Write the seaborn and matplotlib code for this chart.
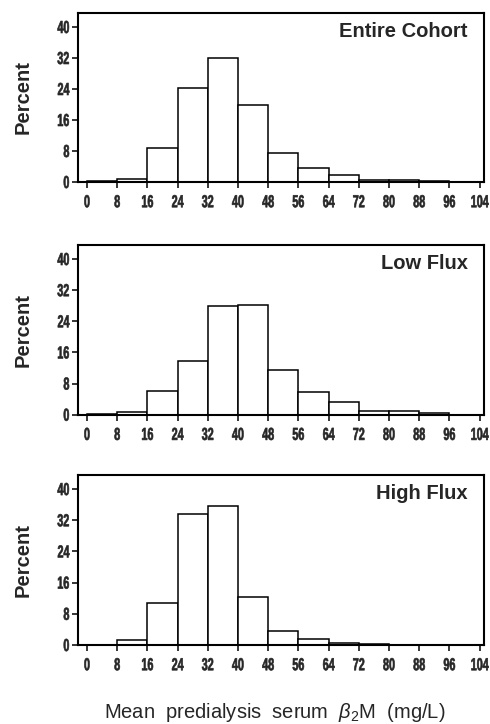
import numpy as np
import pandas as pd
import matplotlib
matplotlib.use("Agg")
import matplotlib.pyplot as plt
from matplotlib.patheffects import AbstractPathEffect
from matplotlib.transforms import Affine2D
import seaborn as sns

sns.set_style("ticks")
plt.rcParams["font.family"] = ["Liberation Sans", "DejaVu Sans"]
plt.rcParams["mathtext.fontset"] = "custom"
plt.rcParams["mathtext.rm"] = "Liberation Sans"
plt.rcParams["mathtext.it"] = "Liberation Sans:italic"

# Bin edges of mean predialysis serum beta2-microglobulin (mg/L)
bin_edges = [0, 8, 16, 24, 32, 40, 48, 56, 64, 72, 80, 88, 96, 104]
tick_labels = ["0", "8", "16", "24", "32", "40", "48", "56", "64", "72", "80", "88", "96", "104"]

# Percent of patients in each bin
entire_cohort = [0.2, 0.9, 8.7, 24.2, 32.0, 19.9, 7.5, 3.5, 1.8, 0.6, 0.5, 0.3, 0.0]
low_flux = [0.1, 0.7, 6.0, 13.7, 27.9, 28.1, 11.6, 5.8, 3.2, 0.9, 1.0, 0.4, 0.0]
high_flux = [0.1, 1.2, 10.9, 33.6, 35.6, 12.4, 3.6, 1.5, 0.6, 0.3, 0.0, 0.0, 0.0]

panel_titles = ["Entire Cohort", "Low Flux", "High Flux"]
y_ticks = [0, 8, 16, 24, 32, 40]


class CondensedText(AbstractPathEffect):
    """Squeeze a text path horizontally about an anchor and thicken its strokes."""

    def __init__(self, sx=0.65, anchor="center", weight=0.45):
        super().__init__()
        self.sx = sx
        self.anchor = anchor
        self.weight = weight

    def draw_path(self, renderer, gc, tpath, affine, rgbFace=None):
        ext = tpath.get_extents(affine)
        cx = ext.x1 if self.anchor == "right" else 0.5 * (ext.x0 + ext.x1)
        squeeze = Affine2D().translate(-cx, 0).scale(self.sx, 1).translate(cx, 0)
        gc0 = renderer.new_gc()
        gc0.copy_properties(gc)
        gc0.set_linewidth(self.weight)
        gc0.set_foreground(rgbFace if rgbFace is not None else "black")
        renderer.draw_path(gc0, tpath, affine + squeeze, rgbFace)
        gc0.restore()


centers = [(a + b) / 2 for a, b in zip(bin_edges[:-1], bin_edges[1:])]
frames = []
for title, vals in zip(panel_titles, [entire_cohort, low_flux, high_flux]):
    frames.append(pd.DataFrame({"group": title, "value": centers, "pct": vals}))
df = pd.concat(frames, ignore_index=True)

fig = plt.figure(figsize=(4.9, 7.24), dpi=100)
# axes rectangles [left, bottom, width, height] in figure fractions
rects = [
    [0.159, 0.7486, 0.829, 0.2334],
    [0.159, 0.4272, 0.829, 0.2344],
    [0.159, 0.1091, 0.829, 0.2348],
]

for rect, title in zip(rects, panel_titles):
    ax = fig.add_axes(rect)
    sub = df[df["group"] == title]
    sns.histplot(
        data=sub, x="value", weights="pct", bins=bin_edges, stat="count",
        color="white", edgecolor="black", linewidth=1.1, alpha=1.0, ax=ax,
    )
    ax.set_xlim(-2.4, 105.2)
    ax.set_ylim(0, 43.6)
    ax.set_xticks(bin_edges)
    ax.set_xticklabels(tick_labels, fontweight="bold", fontsize=12.5)
    ax.set_yticks(y_ticks)
    ax.set_yticklabels([str(t) for t in y_ticks], fontweight="bold", fontsize=12.5)
    for lab in ax.get_xticklabels():
        lab.set_path_effects([CondensedText(0.62, "center")])
    for lab in ax.get_yticklabels():
        lab.set_path_effects([CondensedText(0.62, "right")])
    ax.tick_params(axis="x", direction="out", length=4.5, width=1.1, color="black", pad=5)
    ax.tick_params(axis="y", direction="out", length=4.5, width=1.1, color="black", pad=1.5)
    for sp in ax.spines.values():
        sp.set_visible(True)
        sp.set_linewidth(1.5)
        sp.set_color("black")
    ax.set_xlabel("")
    ax.set_ylabel("Percent", fontsize=14.5, fontweight="bold")
    ax.yaxis.set_label_coords(-0.112, 0.5)
    ax.text(0.96, 0.89, title, transform=ax.transAxes, ha="right", va="center",
            fontsize=14.5, fontweight="bold")

fig.text(0.56, 1 - 713 / 724, r"Mean  predialysis  serum  $\it{\beta}_{\rm 2}$M  (mg/L)",
         ha="center", va="center", fontsize=14.5)

fig.savefig("out.png", dpi=100, facecolor="white")
